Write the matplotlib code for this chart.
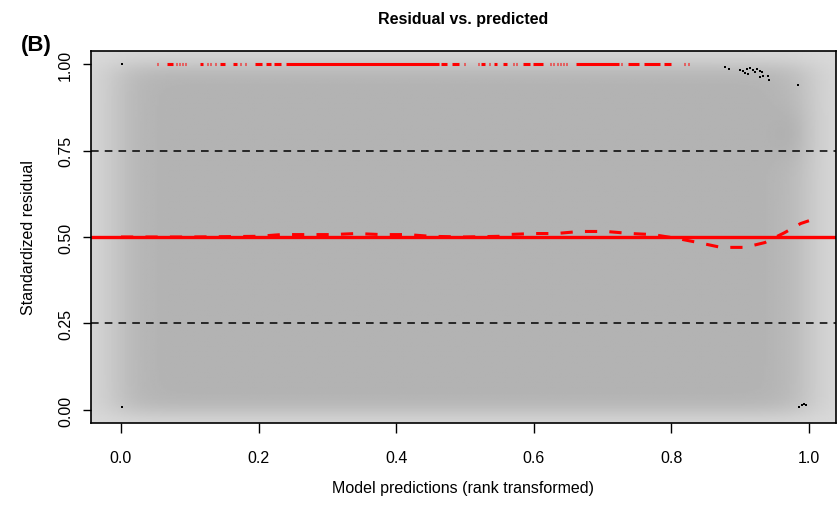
import numpy as np
import matplotlib.pyplot as plt

plt.rcParams['font.family'] = ['Liberation Sans', 'DejaVu Sans']

# DATA
# red outliers at 1.0 : runs of points (start, end) along the x axis
out_x0 = [0.0524, 0.0670, 0.0801, 0.0844, 0.0888, 0.0932, 0.1150, 0.1252, 0.1295, 0.1368,
          0.1441, 0.1630, 0.1732, 0.1805, 0.1951, 0.2110, 0.2227, 0.2402, 0.4658, 0.4818,
          0.4993, 0.5182, 0.5240, 0.5342, 0.5429, 0.5546, 0.5692, 0.5735, 0.5837, 0.5983,
          0.6230, 0.6274, 0.6332, 0.6376, 0.6419, 0.6463, 0.6608, 0.7263, 0.7365, 0.7598,
          0.7889, 0.8180, 0.8239]
out_x1 = [0.0539, 0.0757, 0.0815, 0.0859, 0.0902, 0.0946, 0.1194, 0.1266, 0.1310, 0.1383,
          0.1514, 0.1689, 0.1747, 0.1820, 0.2052, 0.2183, 0.2329, 0.4629, 0.4745, 0.4920,
          0.5007, 0.5197, 0.5298, 0.5357, 0.5459, 0.5604, 0.5706, 0.5750, 0.5939, 0.6128,
          0.6245, 0.6288, 0.6346, 0.6390, 0.6434, 0.6477, 0.7234, 0.7278, 0.7525, 0.7831,
          0.7991, 0.8195, 0.8253]

# black residual points (only the ones outside the density cloud)
pt_x = [0.002, 0.002, 0.986, 0.990, 0.993, 0.996, 0.878, 0.884, 0.900, 0.904, 0.910, 0.914,
        0.919, 0.921, 0.924, 0.929, 0.932, 0.933, 0.940, 0.942, 0.929, 0.907, 0.911, 0.984]
pt_y = [1.000, 0.008, 0.010, 0.013, 0.016, 0.015, 0.991, 0.986, 0.983, 0.980, 0.986, 0.988,
        0.983, 0.977, 0.986, 0.980, 0.977, 0.965, 0.965, 0.954, 0.962, 0.974, 0.971, 0.939]

# median quantile regression
qx = [0.0, 0.1, 0.2, 0.233, 0.269, 0.307, 0.342, 0.378, 0.416, 0.45, 0.5, 0.55, 0.561,
      0.599, 0.632, 0.667, 0.705, 0.741, 0.773, 0.808, 0.839, 0.872, 0.907, 0.936, 0.965,
      0.988, 1.0]
qy = [0.5, 0.5, 0.502, 0.507, 0.507, 0.507, 0.510, 0.507, 0.507, 0.502, 0.5, 0.502, 0.507,
      0.510, 0.510, 0.516, 0.516, 0.510, 0.507, 0.496, 0.484, 0.470, 0.470, 0.484, 0.513,
      0.539, 0.547]

quant = [0.25, 0.5, 0.75]
xticks = [0.0, 0.2, 0.4, 0.6, 0.8, 1.0]
yticks = [0.0, 0.25, 0.5, 0.75, 1.0]

xlim = (-0.0436, 1.0393)
ylim = (-0.0376, 1.0376)

fig = plt.figure(figsize=(8.39, 5.06), dpi=100)
ax = fig.add_axes([91/839, 1-424/506, (836-91)/839, (424-52)/506])

# smooth scatter style background
gx = np.linspace(xlim[0], xlim[1], 400)
gy = np.linspace(ylim[0], ylim[1], 300)
X, Y = np.meshgrid(gx, gy)
fx = 0.5*(np.tanh((X+0.01)/0.04) - np.tanh((X-1.0)/0.04))
fy = 0.5*(np.tanh((Y+0.01)/0.035) - np.tanh((Y-1.0)/0.035))
d = fx*fy
d = d + 0.2*np.exp(-((X-0.975)/0.03)**2 - ((Y-0.80)/0.08)**2)
d = np.clip(d, 0, 1.2)
grey = 0.855 - 0.155*d
ax.imshow(grey, extent=(xlim[0], xlim[1], ylim[0], ylim[1]), origin='lower',
          cmap='gray', vmin=0, vmax=1, aspect='auto', interpolation='bilinear', zorder=0)

ax.scatter(pt_x, pt_y, s=2.5, marker='s', color='black', linewidths=0, zorder=3)
ax.hlines([1.0]*len(out_x0), out_x0, out_x1, colors='red', linewidth=2.2, zorder=3)

for q in quant:
    if q == 0.5:
        ax.axhline(q, color='red', lw=2.4, zorder=2)
    else:
        ax.axhline(q, color='black', lw=1.1, dashes=(5, 4), zorder=2)
ax.plot(qx, qy, color='red', lw=2.2, dashes=(4, 4), zorder=4)

ax.set_xlim(xlim)
ax.set_ylim(ylim)
ax.set_xticks(xticks)
ax.set_xticklabels(['%.1f' % v for v in xticks])
ax.set_yticks(yticks)
ax.set_yticklabels(['%.2f' % v for v in yticks], rotation=90, va='center')
ax.tick_params(direction='out', width=1.0, labelsize=11.5)
ax.tick_params(axis='x', length=7.2, pad=12)
ax.tick_params(axis='y', length=6, pad=7)
for s in ax.spines.values():
    s.set_linewidth(1.2)

ax.set_xlabel('Model predictions (rank transformed)', fontsize=11.5, labelpad=11)
ax.set_ylabel('Standardized residual', fontsize=11.5, labelpad=16)
ax.set_title('Residual vs. predicted', fontsize=11.5, fontweight='bold', pad=20)
fig.text(36/839, 1-45/506, '(B)', fontsize=16, fontweight='bold', ha='center', va='center')

plt.savefig('out.png', dpi=100)
